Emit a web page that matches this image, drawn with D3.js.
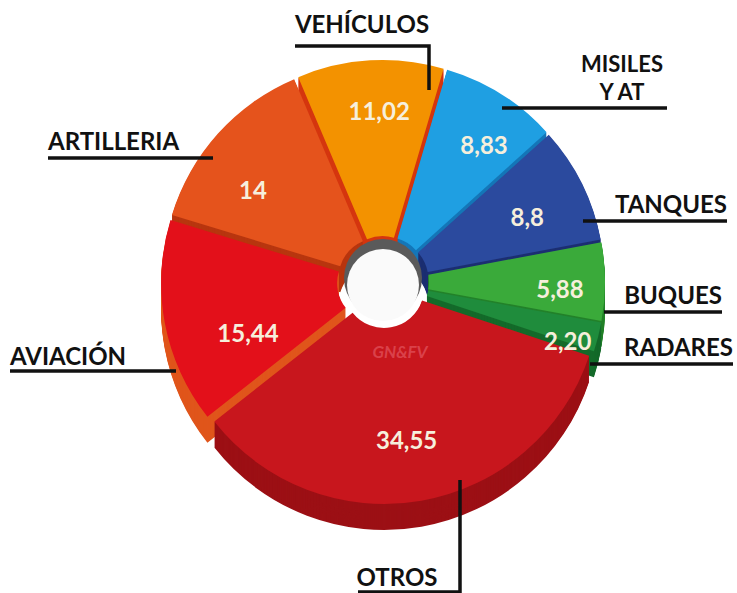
<!DOCTYPE html>
<html><head><meta charset="utf-8">
<script src="https://cdn.jsdelivr.net/npm/d3@7/dist/d3.min.js"></script>
<style>
html,body{margin:0;padding:0;background:#fff;}
svg{display:block;}
</style></head>
<body>
<svg id="chart" width="737" height="593"></svg>
<script>
const categories = ["VEHÍCULOS","MISILES Y AT","TANQUES","BUQUES","RADARES","OTROS","AVIACIÓN","ARTILLERIA"];
const values = [11.02, 8.83, 8.8, 5.88, 2.20, 34.55, 15.44, 14];
const valueLabels = ["11,02","8,83","8,8","5,88","2,20","34,55","15,44","14"];

const topColors  = ["#f39200","#1f9fe2","#2b4a9e","#3aaa3a","#1f8c3c","#c8161d","#e3101a","#e5531c"];
const sideColors = ["#d5360f","#1577b8","#1c2f72","#23822a","#146a2a","#9c1015","#e0561c","#b8360f"];

const svg = d3.select("#chart");
const cx = 383, cy = 282, R = 216, r0 = 40, depth = 26, explode = 6;
const start = -23 * Math.PI / 180;

const pie = d3.pie().sort(null).value(d => d).startAngle(start).endAngle(start + 2 * Math.PI);
const arcs = pie(values);
const arc = d3.arc().innerRadius(r0).outerRadius(R);
const labelArc = d3.arc().innerRadius(165).outerRadius(165);
// small label nudges (layout only)
const nudge = [[6,2],[10,10],[-9,13],[6,10],[19,19],[-6,-8],[33,22],[-3,25]];

function off(d, k) {
  const a = (d.startAngle + d.endAngle) / 2;
  return [Math.sin(a) * k, -Math.cos(a) * k];
}

const g = svg.append("g").attr("transform", `translate(${cx},${cy})`);

// sides (extrusion)
const sides = g.append("g");
for (let z = depth; z > 0; z -= 1) {
  arcs.forEach((d, i) => {
    const [ox, oy] = off(d, explode);
    sides.append("path").attr("d", arc(d))
      .attr("transform", `translate(${ox},${oy + z})`)
      .attr("fill", sideColors[i]);
  });
}
// tops
g.append("g").selectAll("path").data(arcs).join("path")
  .attr("d", arc)
  .attr("transform", d => { const [ox, oy] = off(d, explode); return `translate(${ox},${oy})`; })
  .attr("fill", (d, i) => topColors[i]);

// hole
g.append("circle").attr("cx", 0).attr("cy", -4).attr("r", 39).attr("fill", "#5a5a5a");
g.append("circle").attr("cx", 0).attr("cy", 3).attr("r", 36).attr("fill", "#fafafa");

// value labels
g.append("g").selectAll("text").data(arcs).join("text")
  .attr("transform", (d, i) => { const c = labelArc.centroid(d); const [ox, oy] = off(d, explode); return `translate(${c[0] + ox + nudge[i][0]},${c[1] + oy + nudge[i][1] - 2})`; })
  .attr("text-anchor", "middle").attr("dy", "0.35em")
  .attr("font-family", "Lato, sans-serif").attr("font-weight", 700).attr("font-size", 24)
  .attr("fill", "#f6efdc")
  .text((d, i) => valueLabels[i]);

// watermark
svg.append("text").attr("x", 400).attr("y", 358).attr("text-anchor", "middle")
  .attr("font-family", "Lato, sans-serif").attr("font-style", "italic").attr("font-weight", 700)
  .attr("font-size", 17).attr("fill", "#e0505a").attr("opacity", 0.75).text("GN&FV");

// category labels with leader lines
const lab = svg.append("g").attr("font-family", "Lato, sans-serif").attr("font-weight", 700)
  .attr("font-size", 24).attr("fill", "#111");
const lineStyle = sel => sel.attr("stroke", "#111").attr("stroke-width", 3.5).attr("fill", "none");

function label(i, lines, x, y, anchor, gap) {
  lines.forEach((s, k) => lab.append("text").attr("text-anchor", anchor)
    .attr("x", x).attr("y", y + k * (gap || 24)).text(s));
}
label(0, ["VEHÍCULOS"], 362, 33, "middle");
lineStyle(svg.append("path").attr("d", "M295,46H429V90"));
lab.append("text").attr("text-anchor", "middle").attr("x", 622).attr("y", 72).attr("font-size", 22).text(categories[1].split(" ")[0]);
lab.append("text").attr("text-anchor", "middle").attr("x", 622).attr("y", 100).attr("font-size", 22).text(categories[1].split(" ").slice(1).join(" "));
lineStyle(svg.append("path").attr("d", "M502,108H667"));
label(2, ["TANQUES"], 727, 213, "end");
lineStyle(svg.append("path").attr("d", "M583,221H727"));
label(3, ["BUQUES"], 722, 304, "end");
lineStyle(svg.append("path").attr("d", "M604,312H722"));
label(4, ["RADARES"], 733, 356, "end");
lineStyle(svg.append("path").attr("d", "M590,364H733"));
label(7, ["ARTILLERIA"], 48, 150, "start");
lineStyle(svg.append("path").attr("d", "M48,158H213"));
label(6, ["AVIACIÓN"], 10, 365, "start");
lineStyle(svg.append("path").attr("d", "M10,371H176"));
label(5, ["OTROS"], 397, 586, "middle");
lineStyle(svg.append("path").attr("d", "M358,592H460V480"));
</script>
</body></html>
